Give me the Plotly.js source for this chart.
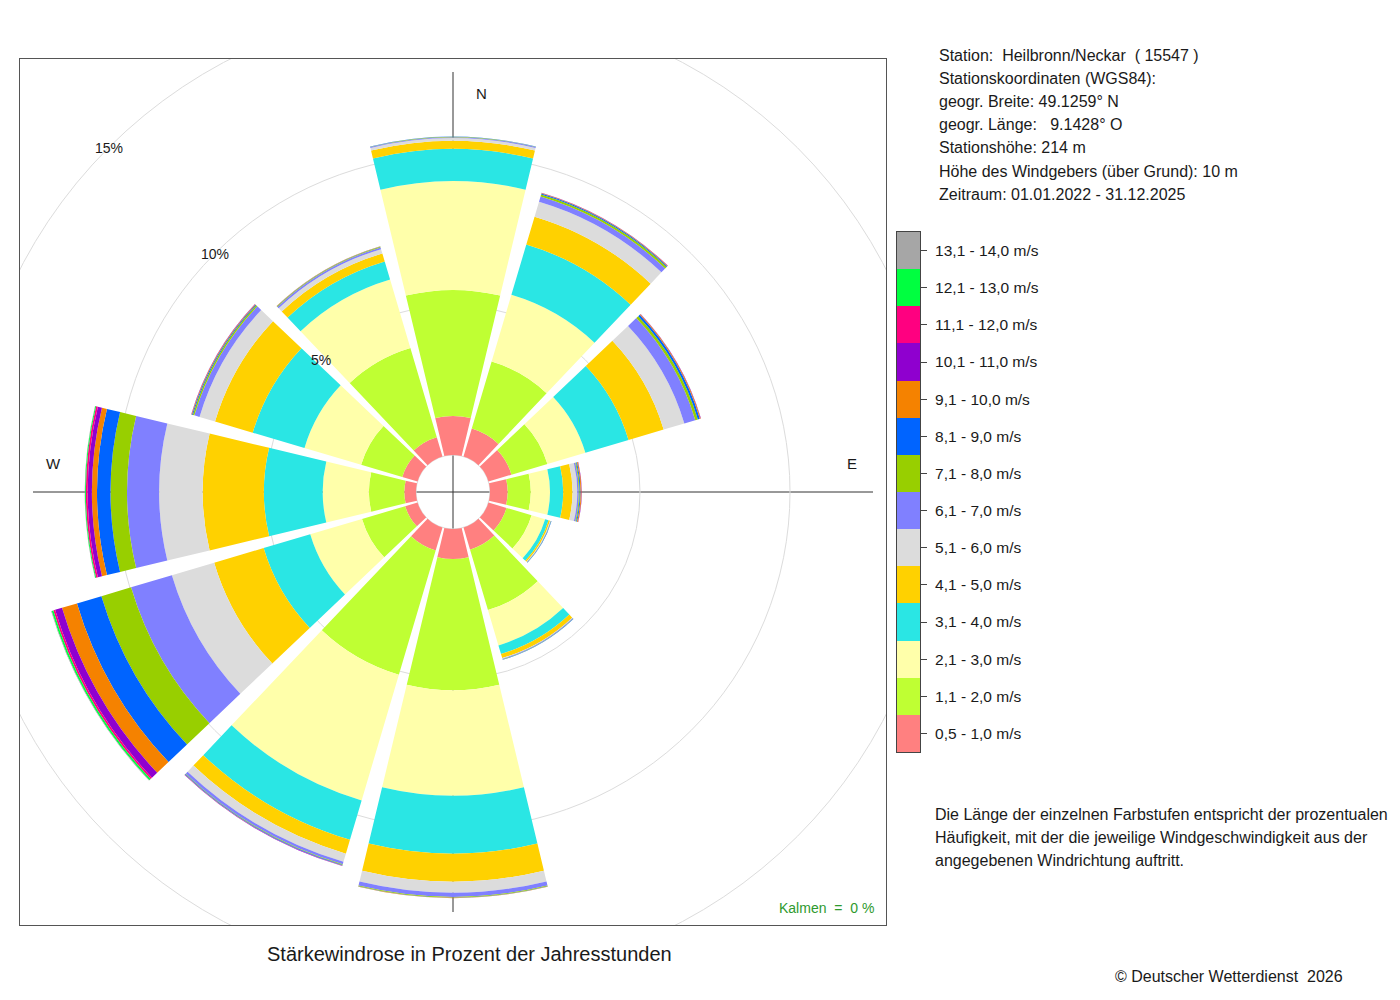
<!DOCTYPE html>
<html>
<head>
<meta charset="utf-8">
<script src="https://cdn.plot.ly/plotly-3.0.1.min.js"></script>
<style>
html,body{margin:0;padding:0;background:#ffffff;}
#chart{width:1400px;height:1000px;}
</style>
</head>
<body>
<div id="chart"></div>
<script>
// Wind directions (degrees, clockwise from north)
const directions = [0, 30, 60, 90, 120, 150, 180, 210, 240, 270, 300, 330];

// Speed classes (legend labels, bottom to top) and their colours
const speedClasses = ['0,5 - 1,0 m/s', '1,1 - 2,0 m/s', '2,1 - 3,0 m/s', '3,1 - 4,0 m/s',
  '4,1 - 5,0 m/s', '5,1 - 6,0 m/s', '6,1 - 7,0 m/s', '7,1 - 8,0 m/s', '8,1 - 9,0 m/s',
  '9,1 - 10,0 m/s', '10,1 - 11,0 m/s', '11,1 - 12,0 m/s', '12,1 - 13,0 m/s', '13,1 - 14,0 m/s'];
const classColors = ['#FF8080', '#BFFF33', '#FFFFAA', '#2AE6E4', '#FFD100', '#DCDCDC',
  '#8080FF', '#98CF00', '#0064FF', '#F58200', '#8F00CF', '#FF0080', '#00FF40', '#A6A6A6'];

// Percent of annual hours per direction, one array per speed class
const v05_10  = [1.30, 0.97, 0.80, 0.59, 0.63, 0.77, 1.00, 0.80, 0.43, 0.39, 0.53, 0.67];
const v11_20  = [4.20, 2.33, 1.25, 0.77, 0.87, 2.10, 4.37, 4.32, 1.50, 1.18, 1.43, 3.10];
const v21_30  = [3.63, 2.32, 1.32, 0.64, 0.47, 1.23, 3.52, 4.37, 1.80, 1.54, 1.97, 2.38];
const v31_40  = [1.07, 1.75, 1.50, 0.44, 0.12, 0.30, 1.93, 1.37, 1.62, 1.96, 1.80, 0.63];
const v41_50  = [0.27, 0.97, 1.22, 0.31, 0.05, 0.14, 0.93, 0.48, 1.72, 2.04, 1.31, 0.28];
const v51_60  = [0.09, 0.52, 0.72, 0.16, 0.02, 0.02, 0.37, 0.28, 1.47, 1.45, 0.54, 0.15];
const v61_70  = [0.03, 0.18, 0.38, 0.05, 0.01, 0.02, 0.14, 0.09, 1.42, 1.07, 0.18, 0.06];
const v71_80  = [0.01, 0.07, 0.09, 0.03, 0.01, 0.01, 0.02, 0.02, 1.03, 0.55, 0.05, 0.02];
const v81_90  = [0.01, 0.03, 0.07, 0.03, 0.01, 0.01, 0.01, 0.02, 0.85, 0.45, 0.03, 0.01];
const v91_100 = [0.00, 0.02, 0.03, 0.03, 0.00, 0.00, 0.01, 0.01, 0.52, 0.17, 0.02, 0.01];
const v101_110 = [0.00, 0.01, 0.01, 0.01, 0.00, 0.00, 0.00, 0.01, 0.24, 0.14, 0.01, 0.00];
const v111_120 = [0.00, 0.00, 0.00, 0.00, 0.00, 0.00, 0.00, 0.00, 0.06, 0.06, 0.00, 0.00];
const v121_130 = [0.00, 0.00, 0.00, 0.00, 0.00, 0.00, 0.00, 0.00, 0.06, 0.03, 0.00, 0.00];
const v131_140 = [0.00, 0.00, 0.00, 0.00, 0.00, 0.00, 0.00, 0.00, 0.02, 0.01, 0.00, 0.00];
const classValues = [v05_10, v11_20, v21_30, v31_40, v41_50, v51_60, v61_70, v71_80,
  v81_90, v91_100, v101_110, v111_120, v121_130, v131_140];

// Radial grid / label values
const gridPercents = [5, 10, 15];

// Text blocks
const stationInfo = [
  'Station:\u00a0 Heilbronn/Neckar\u00a0 ( 15547 )',
  'Stationskoordinaten (WGS84):',
  'geogr. Breite: 49.1259° N',
  'geogr. Länge:\u00a0\u00a0 9.1428° O',
  'Stationshöhe: 214 m',
  'Höhe des Windgebers (über Grund): 10 m',
  'Zeitraum: 01.01.2022 - 31.12.2025'
];
const noteLines = [
  'Die Länge der einzelnen Farbstufen entspricht der prozentualen',
  'Häufigkeit, mit der die jeweilige Windgeschwindigkeit aus der',
  'angegebenen Windrichtung auftritt.'
];
const chartTitle = 'Stärkewindrose in Prozent der Jahresstunden';
const calmText = 'Kalmen\u00a0 =\u00a0 0 %';
const copyrightText = '© Deutscher Wetterdienst\u00a0 2026';
const compassLabels = ['N', 'E', 'W'];

// ---- geometry (pixels) ----
const W = 1400, H = 1000;
const CX = 453, CY = 492;           // rose centre
const PX_PER_PCT = 30;              // pixels per percent
const HOLE_PX = 37;                 // inner empty radius
const SPOKE_PX = 420;               // polar outer radius
const HOLE = HOLE_PX / PX_PER_PCT;  // hole in percent units
const RMAX = SPOKE_PX / PX_PER_PCT - HOLE;
const FRAME = {x0: 20, x1: 886, y0: 59, y1: 925};
const px = x => x / W;
const py = y => 1 - y / H;
const FONT = 'Liberation Sans, Arial, Helvetica, sans-serif';
const TXT = '#1a1a1a';

// ---- traces ----
const traces = classValues.map((vals, i) => ({
  type: 'barpolar',
  r: vals,
  theta: directions,
  width: directions.map(() => 27),
  name: speedClasses[i],
  marker: {color: classColors[i], line: {width: 0}},
  showlegend: false,
  hovertemplate: '%{theta}°: %{r}%<extra>' + speedClasses[i] + '</extra>'
}));

// discrete colour key as a one-column heatmap
const n = classColors.length;
const discreteScale = [];
classColors.forEach((c, i) => { discreteScale.push([i / n, c]); discreteScale.push([(i + 1) / n, c]); });
traces.push({
  type: 'heatmap',
  x: [0],
  y: speedClasses,
  z: speedClasses.map((_, i) => [i]),
  zmin: -0.5, zmax: n - 0.5,
  colorscale: discreteScale,
  showscale: false,
  hoverinfo: 'skip',
  xaxis: 'x2', yaxis: 'y2'
});

// ---- annotations ----
const annotations = [];
stationInfo.forEach((t, i) => annotations.push({
  text: t, xref: 'paper', yref: 'paper', x: px(937), y: py(55 + i * 23.2),
  xanchor: 'left', yanchor: 'middle', showarrow: false, font: {family: FONT, size: 16, color: TXT}
}));
noteLines.forEach((t, i) => annotations.push({
  text: t, xref: 'paper', yref: 'paper', x: px(933), y: py(814 + i * 23),
  xanchor: 'left', yanchor: 'middle', showarrow: false, font: {family: FONT, size: 16, color: TXT}
}));
annotations.push({text: chartTitle, xref: 'paper', yref: 'paper', x: px(470), y: py(954),
  xanchor: 'center', yanchor: 'middle', showarrow: false, font: {family: FONT, size: 20, color: TXT}});
annotations.push({text: copyrightText, xref: 'paper', yref: 'paper', x: px(1113), y: py(976),
  xanchor: 'left', yanchor: 'middle', showarrow: false, font: {family: FONT, size: 16, color: TXT}});
annotations.push({text: calmText, xref: 'paper', yref: 'paper', x: px(876), y: py(908),
  xanchor: 'right', yanchor: 'middle', showarrow: false, font: {family: FONT, size: 14, color: '#2E9A2E'}});
const compassPos = {N: [481, 94], E: [852, 464], W: [53, 464]};
compassLabels.forEach(l => annotations.push({text: l, xref: 'paper', yref: 'paper',
  x: px(compassPos[l][0]), y: py(compassPos[l][1]), xanchor: 'center', yanchor: 'middle',
  showarrow: false, font: {family: FONT, size: 15, color: TXT}}));
// percentage labels along the NW diagonal, in the overlay's percent units
gridPercents.forEach(v => {
  const d = (v + HOLE) / Math.SQRT2;
  annotations.push({text: v + '%', xref: 'x', yref: 'y', x: -d, y: d,
    xanchor: 'center', yanchor: 'middle', showarrow: false, font: {family: FONT, size: 14, color: TXT}});
});

// ---- layout ----
const halfX = (FRAME.x1 - FRAME.x0) / 2 / PX_PER_PCT;
const halfY = (FRAME.y1 - FRAME.y0) / 2 / PX_PER_PCT;
const layout = {
  width: W, height: H,
  margin: {l: 0, r: 0, t: 0, b: 0, pad: 0},
  paper_bgcolor: '#ffffff',
  plot_bgcolor: 'rgba(0,0,0,0)',
  font: {family: FONT, color: TXT},
  showlegend: false,
  xaxis: {domain: [px(FRAME.x0), px(FRAME.x1)], range: [-halfX, halfX], anchor: 'y',
    showline: true, mirror: true, linecolor: '#555', linewidth: 1, showgrid: false, zeroline: false,
    showticklabels: false, ticks: '', fixedrange: true},
  yaxis: {domain: [py(FRAME.y1), py(FRAME.y0)], range: [-halfY, halfY], anchor: 'x',
    showline: true, mirror: true, linecolor: '#555', linewidth: 1, showgrid: false, zeroline: false,
    showticklabels: false, ticks: '', fixedrange: true},
  xaxis2: {domain: [px(897), px(920)], anchor: 'y2', showline: true, mirror: true, linecolor: '#444',
    linewidth: 1, showgrid: false, zeroline: false, showticklabels: false, ticks: '', fixedrange: true},
  yaxis2: {domain: [py(752), py(232)], anchor: 'x2', type: 'category', side: 'right',
    showline: true, mirror: true, linecolor: '#444', linewidth: 1, showgrid: false, zeroline: false,
    ticks: 'outside', ticklen: 6, tickcolor: '#444', ticklabelstandoff: 5,
    tickfont: {family: FONT, size: 15.5, color: TXT}, fixedrange: true},
  polar: {
    domain: {x: [px(CX - SPOKE_PX), px(CX + SPOKE_PX)], y: [py(CY + SPOKE_PX), py(CY - SPOKE_PX)]},
    bgcolor: 'rgba(0,0,0,0)',
    barmode: 'stack',
    radialaxis: {range: [-HOLE, RMAX], tickmode: 'array', tickvals: [0, gridPercents[0], gridPercents[1]],
      showticklabels: false, ticks: '', showline: false, gridcolor: '#dcdcdc', gridwidth: 1},
    angularaxis: {rotation: 90, direction: 'clockwise', tickmode: 'array', tickvals: [0, 90, 180, 270],
      showticklabels: false, ticks: '', showline: false, gridcolor: '#333333', gridwidth: 1}
  },
  shapes: [{
    type: 'circle', xref: 'x', yref: 'y', layer: 'below',
    x0: -(gridPercents[2] + HOLE), x1: gridPercents[2] + HOLE,
    y0: -(gridPercents[2] + HOLE), y1: gridPercents[2] + HOLE,
    line: {color: '#dcdcdc', width: 1}
  }],
  annotations: annotations
};

Plotly.newPlot('chart', traces, layout, {displayModeBar: false, staticPlot: true});
</script>
</body>
</html>
